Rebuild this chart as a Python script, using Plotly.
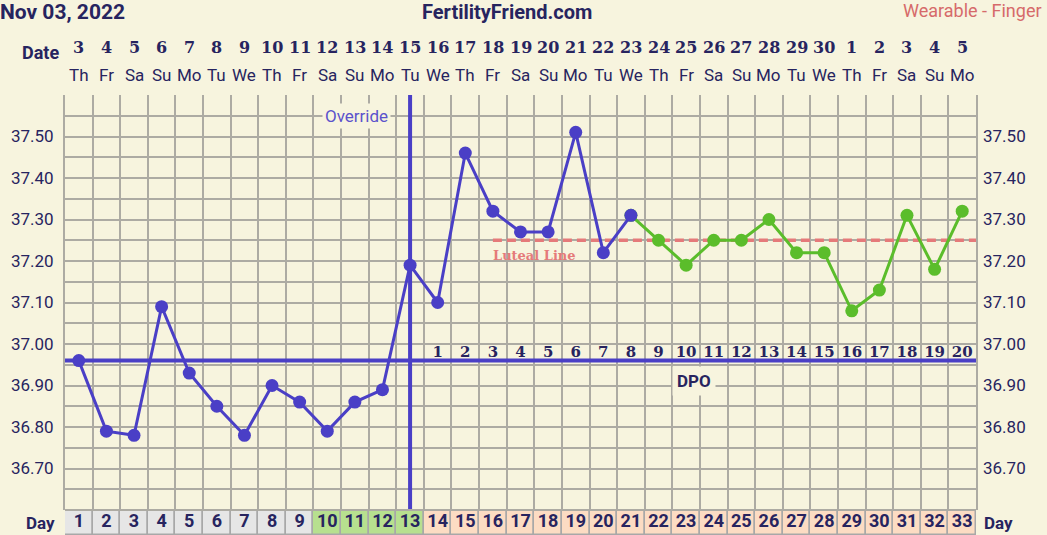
import plotly.graph_objects as go

# ---------------- data ----------------
CYCLE_DAYS = list(range(1, 34))
DATE_NUMS = [3, 4, 5, 6, 7, 8, 9, 10, 11, 12, 13, 14, 15, 16, 17, 18, 19, 20, 21, 22,
             23, 24, 25, 26, 27, 28, 29, 30, 1, 2, 3, 4, 5]
WEEKDAYS = ["Th", "Fr", "Sa", "Su", "Mo", "Tu", "We"] * 4 + ["Th", "Fr", "Sa", "Su", "Mo"]
TEMPS = [36.96, 36.79, 36.78, 37.09, 36.93, 36.85, 36.78, 36.90, 36.86, 36.79,
         36.86, 36.89, 37.19, 37.10, 37.46, 37.32, 37.27, 37.27, 37.51, 37.22,
         37.31, 37.25, 37.19, 37.25, 37.25, 37.30, 37.22, 37.22, 37.08, 37.13,
         37.31, 37.18, 37.32]
LAST_BLUE_DAY = 21
COVERLINE = 36.96
OVULATION_DAY = 13
LUTEAL_START_DAY = 16
LUTEAL_TEMP = 37.25
DPO_DAYS = list(range(14, 34))
DPO_LABELS = [str(i) for i in range(1, 21)]
FERTILE_DAYS = [10, 11, 12, 13]
Y_TICKS = [36.70, 36.80, 36.90, 37.00, 37.10, 37.20, 37.30, 37.40, 37.50]
X_RANGE = [0.5, 33.5]
Y_RANGE = [36.60, 37.60]

# ---------------- style ----------------
BG = "#f7f4de"
NAVY = "#27245f"
BLUE = "#4a3fc6"
GREEN = "#5bbd2b"
SALMON = "#e57a7a"
GRID = "#adaba3"
CELL_GRAY = "#e6e6e6"
CELL_GREEN = "#b7e08f"
CELL_PEACH = "#fcdcc3"

W, H = 1047, 535
ML, MR, MT, MB = 65, 71, 95, 0
plot_h = H - MT - MB
main_bottom = 25 / plot_h

fig = go.Figure()

# day row cells
cell_colors = []
for d in CYCLE_DAYS:
    if d in FERTILE_DAYS:
        cell_colors.append(CELL_GREEN)
    elif d > OVULATION_DAY:
        cell_colors.append(CELL_PEACH)
    else:
        cell_colors.append(CELL_GRAY)
fig.add_trace(go.Bar(x=CYCLE_DAYS, y=[1] * len(CYCLE_DAYS), base=0, width=1,
                     marker=dict(color=cell_colors, line=dict(color="#a8a8a8", width=1.5)),
                     xaxis="x", yaxis="y2", hoverinfo="skip", showlegend=False))
fig.add_trace(go.Scatter(x=CYCLE_DAYS, y=[0.5] * len(CYCLE_DAYS), mode="text",
                         text=[str(d) for d in CYCLE_DAYS],
                         textfont=dict(family="Roboto", size=18, color=NAVY, weight="bold"),
                         xaxis="x", yaxis="y2", hoverinfo="skip", showlegend=False))

# reference lines (as traces so they sit above the grid)
fig.add_trace(go.Scatter(x=X_RANGE, y=[COVERLINE, COVERLINE], mode="lines",
                         line=dict(color=BLUE, width=4), hoverinfo="skip",
                         showlegend=False, xaxis="x", yaxis="y"))
fig.add_trace(go.Scatter(x=[OVULATION_DAY, OVULATION_DAY], y=Y_RANGE, mode="lines",
                         line=dict(color=BLUE, width=4), hoverinfo="skip",
                         showlegend=False, xaxis="x", yaxis="y"))
fig.add_trace(go.Scatter(x=[LUTEAL_START_DAY, X_RANGE[1]], y=[LUTEAL_TEMP, LUTEAL_TEMP],
                         mode="lines", line=dict(color=SALMON, width=3.5, dash="9px,5px"),
                         hoverinfo="skip", showlegend=False, xaxis="x", yaxis="y"))

# temperature lines
fig.add_trace(go.Scatter(x=CYCLE_DAYS[LAST_BLUE_DAY - 1:], y=TEMPS[LAST_BLUE_DAY - 1:],
                         mode="lines+markers", line=dict(color=GREEN, width=3),
                         marker=dict(color=GREEN, size=13), showlegend=False,
                         xaxis="x", yaxis="y"))
fig.add_trace(go.Scatter(x=CYCLE_DAYS[:LAST_BLUE_DAY], y=TEMPS[:LAST_BLUE_DAY],
                         mode="lines+markers", line=dict(color=BLUE, width=3),
                         marker=dict(color=BLUE, size=13), showlegend=False,
                         xaxis="x", yaxis="y"))
# dummy trace for right axis
fig.add_trace(go.Scatter(x=[1], y=[37.0], mode="markers", marker=dict(opacity=0),
                         xaxis="x", yaxis="y3", hoverinfo="skip", showlegend=False))

# DPO numbers
fig.add_trace(go.Scatter(x=DPO_DAYS, y=[COVERLINE] * len(DPO_DAYS), mode="text",
                         text=DPO_LABELS, textposition="top center",
                         textfont=dict(family="DejaVu Serif", size=15, color=NAVY, weight="bold"),
                         hoverinfo="skip", showlegend=False, xaxis="x", yaxis="y"))

annotations = [
    dict(text="Luteal Line", x=LUTEAL_START_DAY, y=LUTEAL_TEMP, xref="x", yref="y",
         xanchor="left", yanchor="middle", yshift=-15, xshift=-2, showarrow=False,
         font=dict(family="DejaVu Serif", size=13, color=SALMON, weight="bold")),
    dict(text="Override", x=11.05, y=37.55, xref="x", yref="y", showarrow=False,
         bgcolor=BG, borderpad=2,
         font=dict(family="Roboto", size=17, color="#5b52cc")),
    dict(text="DPO", x=23.3, y=36.91, xref="x", yref="y", showarrow=False,
         bgcolor=BG, borderpad=4,
         font=dict(family="Roboto", size=17, color=NAVY, weight="bold")),
    dict(text="Nov 03, 2022", xref="paper", yref="paper", x=0, y=1, xshift=-ML - 2, yshift=83,
         xanchor="left", yanchor="middle", showarrow=False,
         font=dict(family="Roboto", size=21, color=NAVY, weight="bold")),
    dict(text="FertilityFriend.com", xref="paper", yref="paper", x=(507 - ML) / (W - ML - MR),
         y=1, yshift=83, xanchor="center", yanchor="middle", showarrow=False,
         font=dict(family="Roboto", size=20, color=NAVY, weight="bold")),
    dict(text="Wearable - Finger", xref="paper", yref="paper", x=1, xshift=MR - 3,
         y=1, yshift=85, xanchor="right", yanchor="middle", showarrow=False,
         font=dict(family="Roboto", size=18, color="#d66a6a")),
    dict(text="Date", xref="paper", yref="paper", x=0, xshift=-25, y=1, yshift=43,
         xanchor="center", yanchor="middle", showarrow=False,
         font=dict(family="Roboto", size=18, color=NAVY, weight="bold")),
    dict(text="Day", xref="paper", yref="paper", x=0, xshift=-25, y=0, yshift=12,
         xanchor="center", yanchor="middle", showarrow=False,
         font=dict(family="Roboto", size=17, color=NAVY, weight="bold")),
    dict(text="Day", xref="paper", yref="paper", x=1, xshift=22, y=0, yshift=12,
         xanchor="center", yanchor="middle", showarrow=False,
         font=dict(family="Roboto", size=17, color=NAVY, weight="bold")),
]
for d, num, wd in zip(CYCLE_DAYS, DATE_NUMS, WEEKDAYS):
    annotations.append(dict(text=str(num), x=d, xref="x", y=1, yref="paper", yshift=48,
                            xanchor="center", yanchor="middle", showarrow=False,
                            font=dict(family="DejaVu Serif", size=16, color=NAVY, weight="bold")))
    annotations.append(dict(text=wd, x=d, xref="x", y=1, yref="paper", yshift=20,
                            xanchor="center", yanchor="middle", showarrow=False,
                            font=dict(family="Roboto", size=17, color=NAVY)))

tick_text = ["%.2f" % v for v in Y_TICKS]
yaxis_common = dict(range=Y_RANGE, tickvals=Y_TICKS, ticktext=tick_text,
                    ticks="", tickfont=dict(family="Roboto", size=17, color=NAVY),
                    zeroline=False, fixedrange=True)

fig.update_layout(
    width=W, height=H,
    margin=dict(l=ML, r=MR, t=MT, b=MB, pad=0),
    paper_bgcolor=BG, plot_bgcolor=BG,
    showlegend=False, bargap=0,
    xaxis=dict(range=X_RANGE, tick0=0.5, dtick=1, showticklabels=False, ticks="",
               showgrid=True, gridcolor=GRID, gridwidth=2, zeroline=False,
               showline=True, linecolor=GRID, linewidth=2, mirror=True, anchor="y2",
               fixedrange=True),
    yaxis=dict(domain=[main_bottom, 1], showgrid=True, gridcolor=GRID, gridwidth=2,
               minor=dict(dtick=0.05, tick0=36.6, showgrid=True, gridcolor=GRID, gridwidth=2),
               showline=True, linecolor=GRID, linewidth=2, mirror=True,
               ticklabelstandoff=6, side="left", **yaxis_common),
    yaxis3=dict(overlaying="y", side="right", showgrid=False, anchor="x",
                ticklabelstandoff=6, **yaxis_common),
    yaxis2=dict(domain=[0, main_bottom - 0.002], range=[0, 1], showgrid=False,
                showticklabels=False, zeroline=False, showline=False, fixedrange=True),
    annotations=annotations,
)

fig.write_html("out.html", config={"displayModeBar": False},
               post_script="document.body.style.margin='0';")
